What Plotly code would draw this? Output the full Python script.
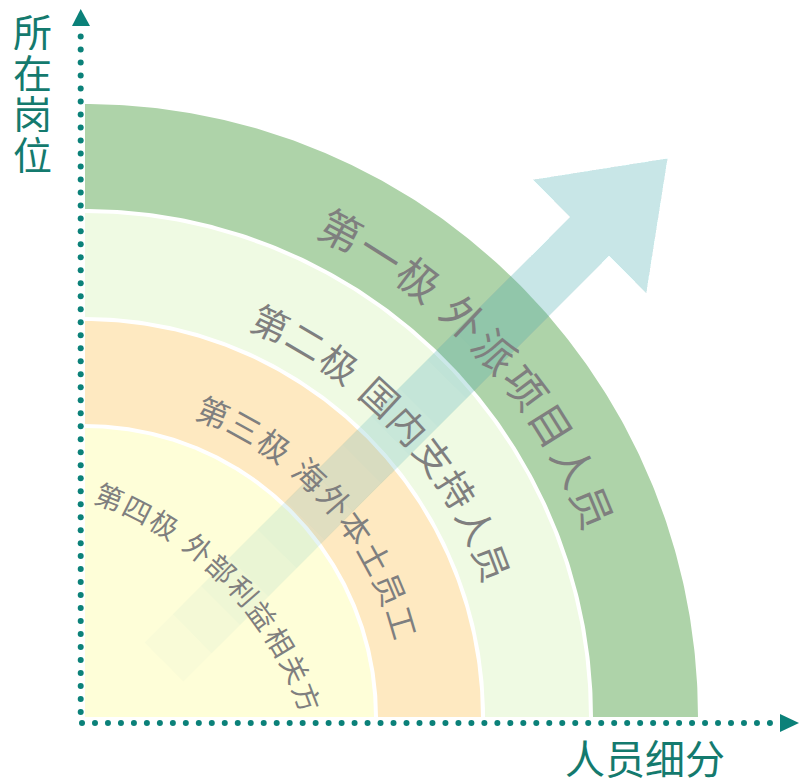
import numpy as np
import plotly.graph_objects as go

# ---------------- data ----------------
tiers = ["第一极 外派项目人员", "第二极 国内支持人员", "第三极 海外本土员工", "第四极 外部利益相关方"]
ring_outer = [613, 504, 396, 289]
ring_inner = [508, 400, 293, 0]
ring_colors = ["#aed3a9", "#effae3", "#fee9c1", "#fefed8"]
y_title_chars = ["所", "在", "岗", "位"]
x_title = "人员细分"

# ---------------- label layout (style) ----------------
label_radius = [552, 437, 332, 351]
label_center = [(0, 0), (0, 0), (0, 0), (-105, -105)]
label_start = [62.3, 64.8, 67.2, 68.3]
label_step = [4.8, 5.3, 6.1, 5.1]
label_font = [42, 37, 32, 28]
space_frac = 0.3

FONT = "Noto Sans CJK SC, Noto Sans, sans-serif"
TEAL = "#0b8179"
TITLE_TEAL = "#147a6e"
GRAY = "#7f7f7f"

fig = go.Figure()

# ---------------- rings ----------------
for ro, ri, col in zip(ring_outer, ring_inner, ring_colors):
    th = np.linspace(0, np.pi / 2, 200)
    xo = ro * np.cos(th)
    yo = ro * np.sin(th)
    if ri > 0:
        xi = ri * np.cos(th[::-1])
        yi = ri * np.sin(th[::-1])
    else:
        xi = np.array([0.0])
        yi = np.array([0.0])
    xs = np.concatenate([xo, xi, xo[:1]])
    ys = np.concatenate([yo, yi, yo[:1]])
    fig.add_trace(go.Scatter(x=xs, y=ys, fill="toself", fillcolor=col, mode="lines",
                             line=dict(width=0, color=col), hoverinfo="skip", showlegend=False))

# ---------------- arrow (gradient via stacked translucent layers) ----------------
T = np.array([79.0, 55.0])
u = np.array([1.0, 1.0]) / np.sqrt(2)
nv = np.array([-1.0, 1.0]) / np.sqrt(2)
L, head_base, shaft_hw, head_hw = 712.0, 602.0, 27.5, 80.0


def arrow_path(s0):
    pts = [(s0, shaft_hw), (head_base, shaft_hw), (head_base, head_hw), (L, 0),
           (head_base, -head_hw), (head_base, -shaft_hw), (s0, -shaft_hw)]
    xy = [T + s * u + n * nv for s, n in pts]
    return "M " + " L ".join(f"{p[0]:.2f},{p[1]:.2f}" for p in xy) + " Z"


ARROW_RGB = "100,182,192"
shapes = [dict(type="path", path=arrow_path(0), fillcolor=f"rgba({ARROW_RGB},0.035)",
               line=dict(width=0), layer="above")]
for s0 in np.arange(40, 441, 40):
    shapes.append(dict(type="path", path=arrow_path(s0), fillcolor=f"rgba({ARROW_RGB},0.033)",
                       line=dict(width=0), layer="above"))

# ---------------- axes: dotted lines with arrowheads ----------------
vy = np.arange(5, 681, 12.99)
fig.add_trace(go.Scatter(x=np.full(len(vy), -4.3), y=vy, mode="markers",
                         marker=dict(size=6, color=TEAL), hoverinfo="skip", showlegend=False))
hx = np.arange(-3, 686, 12.98)
fig.add_trace(go.Scatter(x=hx, y=np.full(len(hx), -6), mode="markers",
                         marker=dict(size=6, color=TEAL), hoverinfo="skip", showlegend=False))
shapes.append(dict(type="path", path="M -13,691 L 5,691 L -4.3,708 Z", fillcolor=TEAL,
                   line=dict(width=0), layer="above"))
shapes.append(dict(type="path", path="M 695,-15 L 695,3 L 714,-6 Z", fillcolor=TEAL,
                   line=dict(width=0), layer="above"))

# ---------------- labels along arcs ----------------
annotations = []
for text, r, c, a0, st, fs in zip(tiers, label_radius, label_center, label_start, label_step, label_font):
    ang = a0
    for ch in text:
        if ch == " ":
            ang -= st * space_frac
            continue
        t = np.radians(ang)
        annotations.append(dict(x=c[0] + r * np.cos(t), y=c[1] + r * np.sin(t), text=ch,
                                showarrow=False, textangle=90 - ang, xanchor="center", yanchor="middle",
                                font=dict(family=FONT, size=fs, color=GRAY)))
        ang -= st

# axis titles
for i, ch in enumerate(y_title_chars):
    annotations.append(dict(x=-53, y=687 - 41 * i, text=ch, showarrow=False,
                            xanchor="center", yanchor="middle", height=40,
                            font=dict(family=FONT, size=39, color=TITLE_TEAL)))
annotations.append(dict(x=560, y=-40, text=x_title, showarrow=False, xanchor="center", yanchor="middle",
                        font=dict(family=FONT, size=40, color=TITLE_TEAL)))

fig.update_layout(
    width=800, height=782,
    margin=dict(l=0, r=0, t=0, b=0),
    paper_bgcolor="white", plot_bgcolor="white",
    xaxis=dict(range=[-85, 715], visible=False, fixedrange=True),
    yaxis=dict(range=[-65, 717], visible=False, fixedrange=True),
    shapes=shapes, annotations=annotations,
    showlegend=False, hovermode=False,
)

fig.write_html("out.html", config={"displayModeBar": False},
               post_script="document.body.style.margin='0px';")
